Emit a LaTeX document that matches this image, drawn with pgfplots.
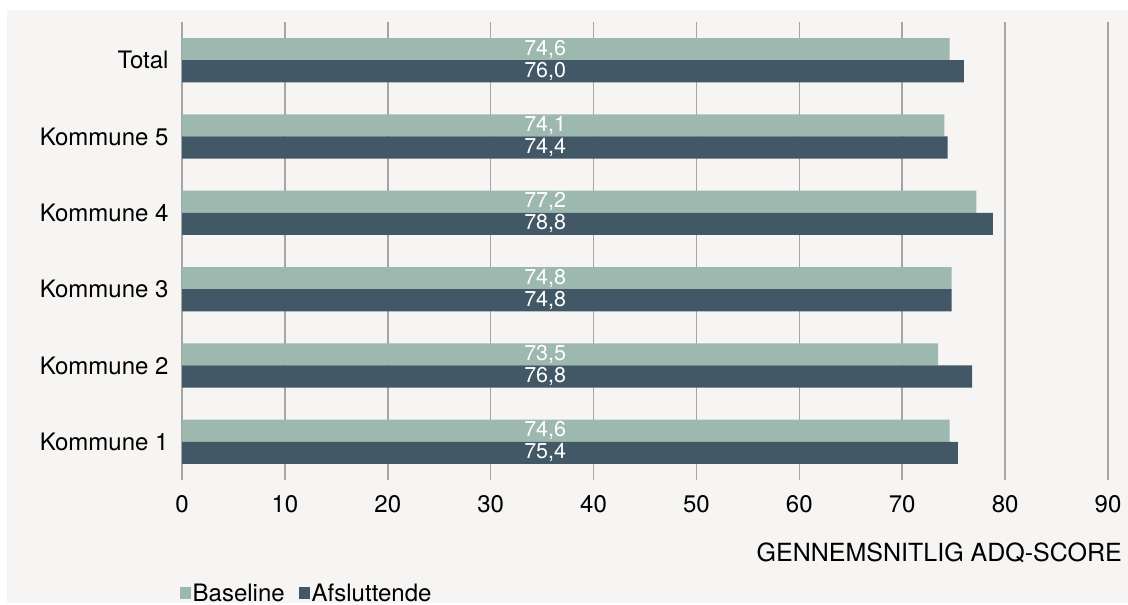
\documentclass[border=0pt]{standalone}
\usepackage{pgfplots}
\usepackage{pgfplotstable}
\pgfplotsset{compat=1.18}
\usepackage{fontspec}
\setmainfont{TeX Gyre Heros}

\definecolor{basecol}{RGB}{157,184,174}
\definecolor{afslcol}{RGB}{67,88,102}
\definecolor{bgcol}{RGB}{246,245,243}
\definecolor{gridcol}{RGB}{165,165,165}

% y: 0 = Kommune 1 ... 5 = Total
\pgfplotstableread{
y base afsl
0 74.6 75.4
1 73.5 76.8
2 74.8 74.8
3 77.2 78.8
4 74.1 74.4
5 74.6 76.0
}\scores

\newcommand{\bigfont}{\fontsize{24bp}{28bp}\selectfont}
\newcommand{\labfont}{\fontsize{21.5bp}{25bp}\selectfont}

\begin{document}
\begin{tikzpicture}
\fill[white] (0bp,0bp) rectangle (1128bp,603bp);
\fill[bgcol] (7bp,0bp) rectangle (1128bp,593bp);
\begin{axis}[
    at={(182bp,123bp)}, anchor=south west,
    scale only axis,
    width=926bp, height=458bp,
    xmin=0, xmax=90,
    ymin=-0.5, ymax=5.5,
    xbar, bar width=0.29,
    xtick={0,10,...,90},
    ytick={0,1,2,3,4,5},
    yticklabels={Kommune 1,Kommune 2,Kommune 3,Kommune 4,Kommune 5,Total},
    xmajorgrids,
    grid style={gridcol, line width=1.5bp},
    axis line style={draw=none},
    major tick length=0pt,
    /pgf/number format/assume math mode=true,
    ticklabel style={font=\bigfont},
    xticklabel style={yshift=-12bp},
    yticklabel style={xshift=-10bp},
    xlabel={GENNEMSNITLIG ADQ-SCORE},
    xlabel style={at={(axis description cs:1,0)}, anchor=base east,
        inner sep=0pt, xshift=14bp, yshift=-81bp,
        font=\fontsize{25bp}{29bp}\selectfont},
    legend columns=2,
    legend style={draw=none, fill=none, font=\bigfont,
        at={(axis description cs:0,0)}, anchor=west,
        xshift=-2bp, yshift=-113bp, inner sep=0pt,
        nodes={inner sep=1.5bp},
        /tikz/every even column/.append style={column sep=13bp}},
    legend image code/.code={\fill[#1] (0bp,-5.5bp) rectangle (11bp,5.5bp);},
]
\addplot[draw=none, fill=basecol, bar shift=0.145] table[x=base, y=y] {\scores};
\addlegendentry{Baseline}
\addplot[draw=none, fill=afslcol, bar shift=-0.145] table[x=afsl, y=y] {\scores};
\addlegendentry{Afsluttende}

\addplot[sharp plot, draw=none, mark=none, forget plot,
    point meta=explicit,
    nodes near coords={\pgfmathprintnumber[fixed,fixed zerofill,precision=1,use comma]{\pgfplotspointmeta}},
    every node near coord/.style={anchor=center, text=white, font=\labfont, inner sep=0pt}]
    table[x expr=35.3, y expr=\thisrow{y}+0.145, meta=base] {\scores};
\addplot[sharp plot, draw=none, mark=none, forget plot,
    point meta=explicit,
    nodes near coords={\pgfmathprintnumber[fixed,fixed zerofill,precision=1,use comma]{\pgfplotspointmeta}},
    every node near coord/.style={anchor=center, text=white, font=\labfont, inner sep=0pt}]
    table[x expr=35.3, y expr=\thisrow{y}-0.145, meta=afsl] {\scores};
\end{axis}
\end{tikzpicture}
\end{document}
